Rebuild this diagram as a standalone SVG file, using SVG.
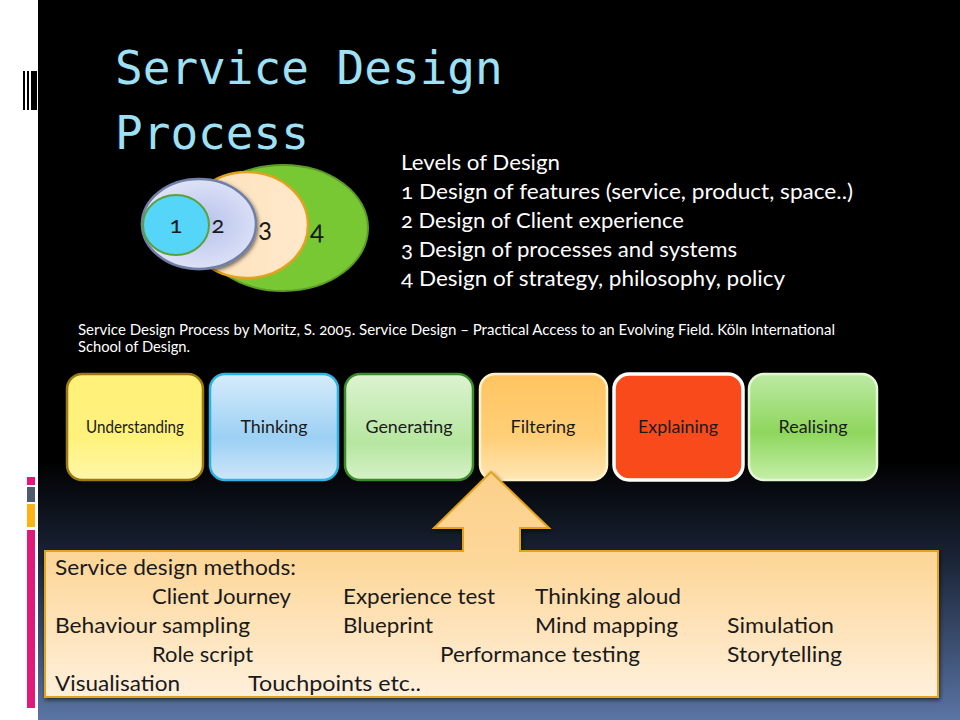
<svg xmlns="http://www.w3.org/2000/svg" width="960" height="720" viewBox="0 0 960 720" xml:space="preserve">
<defs>
<linearGradient id="bg" x1="0" y1="0" x2="0" y2="1">
<stop offset="0" stop-color="#000"/>
<stop offset="0.64" stop-color="#000"/>
<stop offset="0.78" stop-color="#1b2538"/>
<stop offset="1" stop-color="#5a74a4"/>
</linearGradient>
<linearGradient id="gYel" x1="0" y1="0" x2="0" y2="1">
<stop offset="0" stop-color="#fff078"/><stop offset="0.6" stop-color="#fff27c"/><stop offset="1" stop-color="#fff6a8"/>
</linearGradient>
<linearGradient id="gBlue" x1="0" y1="0" x2="0" y2="1">
<stop offset="0" stop-color="#d6ecfb"/><stop offset="0.6" stop-color="#9cd0f4"/><stop offset="1" stop-color="#cde6f8"/>
</linearGradient>
<linearGradient id="gGreen" x1="0" y1="0" x2="0" y2="1">
<stop offset="0" stop-color="#dcf3d0"/><stop offset="0.65" stop-color="#b6e6a0"/><stop offset="1" stop-color="#d6f2c8"/>
</linearGradient>
<linearGradient id="gOrange" x1="0" y1="0" x2="0" y2="1">
<stop offset="0" stop-color="#ffc460"/><stop offset="0.6" stop-color="#ffcf78"/><stop offset="1" stop-color="#ffe6b4"/>
</linearGradient>
<linearGradient id="gReal" x1="0" y1="0" x2="0" y2="1">
<stop offset="0" stop-color="#bdeaa4"/><stop offset="0.55" stop-color="#8ed65c"/><stop offset="1" stop-color="#c4efa8"/>
</linearGradient>
<linearGradient id="gCallout" x1="0" y1="0" x2="0" y2="1">
<stop offset="0" stop-color="#fcd08a"/><stop offset="0.4" stop-color="#fdd79a"/><stop offset="1" stop-color="#fff0dc"/>
</linearGradient>
<linearGradient id="gE3" x1="0" y1="0" x2="1" y2="0">
<stop offset="0" stop-color="#fde0b8"/><stop offset="1" stop-color="#ffe9cc"/>
</linearGradient>
<radialGradient id="gE2" cx="0.55" cy="0.5" r="0.6">
<stop offset="0" stop-color="#b8c2ec"/><stop offset="1" stop-color="#e4e8f8"/>
</radialGradient>
<filter id="glow" x="-10%" y="-10%" width="120%" height="120%">
<feGaussianBlur in="SourceAlpha" stdDeviation="2"/>
<feOffset dx="1" dy="2" result="b"/>
<feFlood flood-color="#000" flood-opacity="0.6"/>
<feComposite in2="b" operator="in"/>
<feMerge><feMergeNode/><feMergeNode in="SourceGraphic"/></feMerge>
</filter>
</defs>
<style>
.body{font-family:Lato,"Open Sans","Liberation Sans",sans-serif;font-variant-numeric:oldstyle-nums;white-space:pre;}
.title{font-family:"DejaVu Sans Mono","Liberation Mono",monospace;font-size:46px;fill:#9ee0f5;}
.lvl{font-size:22px;fill:#ffffff;}
.cite{font-size:15px;fill:#ffffff;}
.blabel{font-size:17px;fill:#1a1a1a;text-anchor:middle;}
.meth{font-size:22px;fill:#1a1a1a;}
.num{fill:#1a1a1a;text-anchor:middle;}
.box{stroke-width:2.5;}
</style>
<rect x="0" y="0" width="960" height="720" fill="#ffffff"/>
<rect x="38" y="0" width="922" height="720" fill="url(#bg)"/>
<g id="sidebar">
<rect x="23" y="71" width="2" height="39" fill="#000"/>
<rect x="27" y="71" width="2" height="39" fill="#000"/>
<rect x="31" y="71" width="6" height="39" fill="#000"/>
<rect x="27" y="477" width="8" height="8" fill="#e0197a"/>
<rect x="27" y="487" width="8" height="15" fill="#4d5b6c"/>
<rect x="27" y="504" width="8" height="23" fill="#fbb316"/>
<rect x="27" y="530" width="8" height="178" fill="#e0197a"/>
</g>
<g id="title">
<text class="title" x="115" y="84">Service Design</text>
<text class="title" x="115" y="149">Process</text>
</g>
<g id="venn" class="body">
<ellipse cx="283" cy="228" rx="85" ry="63" fill="#77c832" stroke="#5e9c2a" stroke-width="2"/>
<ellipse cx="247" cy="225" rx="61" ry="53" fill="url(#gE3)" stroke="#e3a21e" stroke-width="2.5"/>
<ellipse cx="199" cy="224" rx="57" ry="45" fill="url(#gE2)" stroke="#6f7fa8" stroke-width="2.5" filter="url(#glow)"/>
<ellipse cx="176" cy="225" rx="33" ry="30" fill="#55d6f8" stroke="#5aa040" stroke-width="2"/>
<text class="num" x="176" y="233" font-size="24">1</text>
<text class="num" x="218" y="233" font-size="24">2</text>
<text class="num" x="265" y="237" font-size="26">3</text>
<text class="num" x="317" y="240" font-size="26">4</text>
</g>
<g id="levels" class="body">
<text class="lvl" x="401" y="170" textLength="159" lengthAdjust="spacingAndGlyphs">Levels of Design</text>
<text class="lvl" x="401" y="199" textLength="452" lengthAdjust="spacingAndGlyphs">1 Design of features (service, product, space..)</text>
<text class="lvl" x="401" y="228" textLength="283" lengthAdjust="spacingAndGlyphs">2 Design of Client experience</text>
<text class="lvl" x="401" y="257" textLength="336" lengthAdjust="spacingAndGlyphs">3 Design of processes and systems</text>
<text class="lvl" x="401" y="286" textLength="384" lengthAdjust="spacingAndGlyphs">4 Design of strategy, philosophy, policy</text>
</g>
<g id="citation" class="body">
<text class="cite" x="78" y="335" textLength="757" lengthAdjust="spacingAndGlyphs">Service Design Process by Moritz, S. 2005.  Service Design – Practical Access to an Evolving Field.  Köln International</text>
<text class="cite" x="78" y="352" textLength="112" lengthAdjust="spacingAndGlyphs">School of Design.</text>
</g>
<g id="understanding" class="body">
<rect class="box" x="67" y="374" width="136" height="106" rx="15" fill="url(#gYel)" stroke="#9a7a10"/>
<text class="blabel" x="135" y="433" font-size="15" textLength="98" lengthAdjust="spacingAndGlyphs">Understanding</text>
</g>
<g id="thinking" class="body">
<rect class="box" x="210" y="374" width="128" height="106" rx="15" fill="url(#gBlue)" stroke="#2ab4e6"/>
<text class="blabel" x="274" y="433" textLength="67" lengthAdjust="spacingAndGlyphs">Thinking</text>
</g>
<g id="generating" class="body">
<rect class="box" x="345" y="374" width="128" height="106" rx="15" fill="url(#gGreen)" stroke="#3c8a2a"/>
<text class="blabel" x="409" y="433" textLength="87" lengthAdjust="spacingAndGlyphs">Generating</text>
</g>
<g id="filtering" class="body">
<rect class="box" x="480" y="374" width="127" height="106" rx="15" fill="url(#gOrange)" stroke="#fff2cc"/>
<text class="blabel" x="543" y="433" textLength="65" lengthAdjust="spacingAndGlyphs">Filtering</text>
</g>
<g id="explaining" class="body">
<rect x="614" y="374" width="129" height="106" rx="15" fill="#f84a1a" stroke="#ffffff" stroke-width="3.5"/>
<text class="blabel" x="678" y="433" textLength="80" lengthAdjust="spacingAndGlyphs">Explaining</text>
</g>
<g id="realising" class="body">
<rect class="box" x="749" y="374" width="128" height="106" rx="15" fill="url(#gReal)" stroke="#e4f6d4"/>
<text class="blabel" x="813" y="433" textLength="69" lengthAdjust="spacingAndGlyphs">Realising</text>
</g>
<g id="connectors"></g>
<g id="methods" class="body">
<path d="M491 472 L549 528 L520 528 L520 551 L938 551 L938 697 L45 697 L45 551 L463 551 L463 528 L434 528 Z" fill="url(#gCallout)" stroke="#e3a21e" stroke-width="2" stroke-linejoin="miter" filter="url(#glow)"/>
<text class="meth" x="55" y="575" textLength="241" lengthAdjust="spacingAndGlyphs">Service design methods:</text>
<text class="meth" x="152" y="604" textLength="139" lengthAdjust="spacingAndGlyphs">Client Journey</text>
<text class="meth" x="343" y="604" textLength="152" lengthAdjust="spacingAndGlyphs">Experience test</text>
<text class="meth" x="535" y="604" textLength="146" lengthAdjust="spacingAndGlyphs">Thinking aloud</text>
<text class="meth" x="55" y="633" textLength="195" lengthAdjust="spacingAndGlyphs">Behaviour sampling</text>
<text class="meth" x="343" y="633" textLength="90" lengthAdjust="spacingAndGlyphs">Blueprint</text>
<text class="meth" x="535" y="633" textLength="143" lengthAdjust="spacingAndGlyphs">Mind mapping</text>
<text class="meth" x="727" y="633" textLength="107" lengthAdjust="spacingAndGlyphs">Simulation</text>
<text class="meth" x="152" y="662" textLength="101" lengthAdjust="spacingAndGlyphs">Role script</text>
<text class="meth" x="440" y="662" textLength="200" lengthAdjust="spacingAndGlyphs">Performance testing</text>
<text class="meth" x="727" y="662" textLength="115" lengthAdjust="spacingAndGlyphs">Storytelling</text>
<text class="meth" x="55" y="691" textLength="125" lengthAdjust="spacingAndGlyphs">Visualisation</text>
<text class="meth" x="248" y="691" textLength="173" lengthAdjust="spacingAndGlyphs">Touchpoints  etc..</text>
</g>
</svg>
